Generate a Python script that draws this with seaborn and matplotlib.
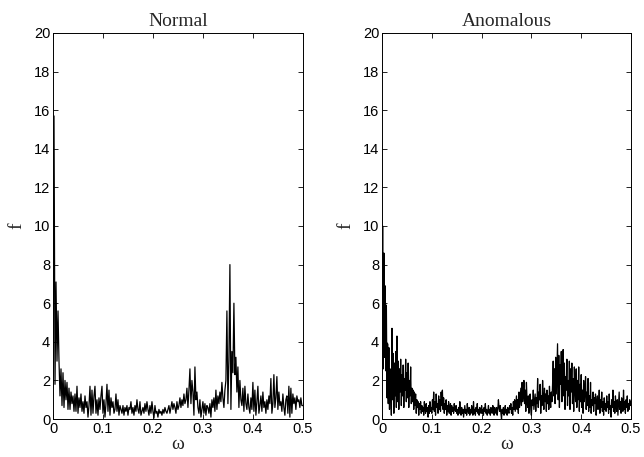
import numpy as np
import pandas as pd
import matplotlib
matplotlib.use("Agg")
import matplotlib.pyplot as plt
import seaborn as sns

# ---------------- data ----------------
normal_step = 0.002
normal_f = [
    1.6, 15.7, 1.8, 7.1, 3.0, 5.6, 3.0, 1.2, 2.6, 0.7,
    2.4, 0.6, 2.0, 1.0, 1.9, 0.5, 1.6, 0.5, 1.4, 0.8,
    1.2, 0.4, 1.3, 0.4, 1.7, 0.3, 1.1, 0.6, 1.3, 0.4,
    0.9, 0.3, 1.2, 0.6, 0.9, 0.1, 0.7, 1.7, 0.2, 1.5,
    0.3, 1.2, 1.7, 0.3, 1.0, 0.2, 1.1, 0.5, 1.2, 1.7,
    0.3, 1.0, 0.1, 0.8, 1.8, 0.4, 1.5, 0.2, 1.1, 0.6,
    0.9, 0.3, 0.5, 1.3, 0.4, 1.0, 0.2, 0.7, 0.5, 0.3,
    0.7, 0.2, 0.6, 0.4, 0.7, 0.2, 0.6, 0.5, 0.9, 0.3,
    0.6, 0.2, 0.7, 0.4, 1.0, 0.5, 0.3, 0.9, 0.2, 0.4,
    0.6, 0.3, 0.8, 0.4, 0.9, 0.5, 0.2, 0.7, 0.3, 0.9,
    0.4, 0.05, 0.7, 0.3, 0.4, 0.1, 0.5, 0.3, 0.4, 0.2,
    0.5, 0.3, 0.6, 0.4, 0.3, 0.5, 0.7, 0.3, 0.6, 0.9,
    0.5, 0.8, 0.6, 0.3, 0.9, 0.5, 0.7, 1.1, 0.6, 1.0,
    0.7, 1.3, 0.8, 1.0, 1.6, 0.6, 1.5, 2.6, 0.8, 2.0,
    1.4, 0.2, 2.7, 1.0, 1.4, 0.6, 0.3, 1.0, 0.1, 0.5,
    0.9, 0.3, 0.8, 0.2, 0.7, 0.6, 0.3, 0.8, 0.1, 1.0,
    0.6, 1.1, 0.4, 1.5, 0.5, 1.2, 0.8, 1.4, 0.9, 1.9,
    1.1, 0.6, 1.5, 2.0, 5.6, 0.8, 3.0, 8.0, 0.5, 3.5,
    2.4, 6.0, 2.3, 3.2, 1.4, 2.7, 0.6, 2.0, 1.0, 0.7,
    1.6, 0.4, 1.7, 0.8, 0.5, 1.3, 0.6, 0.3, 1.1, 0.5,
    1.9, 0.4, 1.5, 0.2, 0.9, 1.7, 0.3, 0.7, 1.2, 0.4,
    1.4, 0.6, 0.9, 0.3, 1.0, 0.5, 1.2, 0.8, 2.1, 0.3,
    0.8, 2.3, 0.6, 1.1, 2.2, 0.5, 1.4, 0.7, 0.9, 0.4,
    1.3, 0.6, 0.2, 1.0, 1.2, 0.3, 1.7, 0.1, 1.6, 0.3,
    1.3, 0.8, 1.1, 0.5, 1.2, 0.9, 1.0, 0.6, 1.1, 0.7,
    0.7,
]

anom_step = 0.00125
anom_f = [
    # 0.00 - 0.05
    2.6, 10.0, 2.6, 8.6, 3.2, 6.9, 2.5, 5.9, 1.1, 3.9,
    0.8, 3.7, 0.5, 2.6, 1.8, 0.2, 4.7, 1.0, 3.4, 0.3,
    2.9, 1.2, 3.5, 0.6, 4.3, 0.9, 3.0, 0.5, 2.6, 1.4,
    3.1, 0.7, 2.3, 1.2, 2.8, 0.6, 2.1, 1.5, 3.1, 0.9,
    # 0.05 - 0.10
    2.4, 1.1, 2.9, 0.6, 2.0, 1.2, 2.7, 0.8, 1.6, 0.9,
    1.5, 0.5, 1.4, 0.7, 1.3, 0.3, 1.0, 0.6, 0.9, 0.2,
    0.8, 0.5, 0.9, 0.3, 0.7, 0.4, 0.6, 0.2, 0.9, 0.5,
    0.3, 0.8, 0.4, 0.6, 0.1, 0.7, 0.3, 0.9, 0.4, 0.6,
    # 0.10 - 0.15
    0.3, 1.0, 0.5, 1.4, 0.4, 0.9, 0.2, 1.3, 0.6, 0.8,
    0.3, 1.2, 0.5, 1.0, 0.4, 1.4, 0.7, 1.5, 0.5, 1.1,
    0.3, 0.8, 0.5, 1.0, 0.2, 0.7, 0.4, 0.9, 0.3, 0.6,
    0.8, 0.2, 0.7, 0.4, 0.6, 0.3, 0.8, 0.5, 0.4, 0.7,
    # 0.15 - 0.20
    0.3, 0.5, 0.2, 0.6, 0.3, 0.9, 0.4, 0.2, 0.6, 0.3,
    0.5, 0.1, 0.4, 0.7, 0.3, 0.5, 0.2, 0.8, 0.4, 0.3,
    0.6, 0.2, 0.5, 0.3, 0.7, 0.4, 0.2, 0.9, 0.3, 0.5,
    0.2, 0.6, 0.4, 0.8, 0.3, 0.5, 0.2, 0.6, 0.4, 0.3,
    # 0.20 - 0.25
    0.7, 0.3, 0.5, 0.2, 0.6, 0.4, 0.8, 0.3, 0.5, 0.2,
    0.4, 0.7, 0.3, 0.5, 0.2, 0.6, 0.4, 0.3, 0.7, 0.5,
    0.2, 0.6, 0.4, 0.3, 0.6, 0.2, 0.5, 1.0, 0.6, 0.4,
    0.7, 0.3, 0.0, 0.5, 0.3, 0.6, 0.2, 0.4, 0.7, 0.3,
    # 0.25 - 0.30
    0.5, 0.2, 0.6, 0.4, 0.3, 0.7, 0.5, 0.8, 0.3, 0.6,
    0.2, 0.9, 0.5, 1.0, 0.4, 0.8, 1.2, 0.5, 1.0, 0.3,
    1.4, 0.6, 1.1, 1.6, 0.7, 1.9, 0.9, 1.3, 2.0, 0.8,
    1.5, 0.4, 1.9, 1.0, 0.6, 1.2, 0.3, 0.9, 1.3, 0.5,
    # 0.30 - 0.35
    0.2, 1.0, 0.7, 1.5, 0.5, 0.9, 1.3, 0.4, 1.1, 0.8,
    2.1, 0.6, 1.4, 1.0, 1.8, 0.3, 1.2, 0.7, 2.0, 1.1,
    0.5, 1.6, 0.9, 1.3, 0.4, 1.5, 0.8, 1.2, 0.5, 1.7,
    1.0, 0.6, 1.4, 0.9, 1.8, 3.0, 1.2, 2.6, 0.8, 3.2,
    # 0.35 - 0.40
    1.3, 2.5, 3.9, 1.0, 3.3, 0.6, 2.8, 1.8, 3.5, 0.9,
    2.4, 3.6, 1.2, 2.9, 0.5, 2.2, 1.5, 3.1, 0.7, 2.0,
    1.2, 3.0, 0.5, 2.6, 1.4, 2.9, 0.8, 2.1, 0.4, 2.7,
    1.5, 0.9, 2.6, 0.6, 2.0, 1.0, 2.7, 0.4, 1.8, 0.9,
    # 0.40 - 0.45
    2.3, 0.6, 1.5, 0.3, 2.0, 0.9, 1.3, 2.2, 0.5, 1.4,
    0.7, 2.1, 0.4, 1.2, 0.6, 1.9, 0.3, 1.0, 0.7, 1.4,
    0.4, 1.1, 0.8, 1.3, 0.2, 0.9, 1.2, 0.5, 0.8, 1.5,
    0.3, 1.0, 0.6, 1.4, 0.4, 0.9, 0.2, 1.1, 0.5, 0.8,
    # 0.45 - 0.50
    0.4, 1.2, 0.6, 0.9, 0.3, 1.3, 0.5, 0.7, 0.1, 1.0,
    0.6, 1.5, 0.4, 0.9, 0.3, 1.2, 0.7, 0.4, 1.0, 0.2,
    0.8, 1.4, 0.5, 0.9, 0.3, 1.1, 0.6, 0.4, 1.5, 0.5,
    0.9, 0.3, 1.0, 0.6, 1.2, 0.4, 0.8, 0.5, 1.0, 0.7,
    0.9,
]

titles = ["Normal", "Anomalous"]
xticks = [0, 0.1, 0.2, 0.3, 0.4, 0.5]
xticklabels = ["0", "0.1", "0.2", "0.3", "0.4", "0.5"]
yticks = [0, 2, 4, 6, 8, 10, 12, 14, 16, 18, 20]
yticklabels = [str(v) for v in yticks]

df_normal = pd.DataFrame({"omega": np.arange(len(normal_f)) * normal_step,
                          "f": normal_f})
df_anom = pd.DataFrame({"omega": np.arange(len(anom_f)) * anom_step,
                        "f": anom_f})

# ---------------- figure ----------------
sns.set_style("ticks")
plt.rcParams["font.family"] = ["Liberation Sans", "DejaVu Sans"]

fig = plt.figure(figsize=(6.44, 4.57), dpi=100)
ax1 = fig.add_axes([0.0823, 0.083, 0.388, 0.845])
ax2 = fig.add_axes([0.5932, 0.083, 0.3866, 0.845])

for ax, df, title in [(ax1, df_normal, titles[0]), (ax2, df_anom, titles[1])]:
    sns.lineplot(data=df, x="omega", y="f", ax=ax, color="black",
                 linewidth=0.9, estimator=None, sort=False)
    ax.set_xlim(0, 0.5)
    ax.set_ylim(0, 20)
    ax.set_xticks(xticks)
    ax.set_xticklabels(xticklabels)
    ax.set_yticks(yticks)
    ax.set_yticklabels(yticklabels)
    ax.tick_params(direction="in", top=True, right=True, length=3.5,
                   width=0.6, labelsize=10.5, pad=2, colors="black")
    for s in ax.spines.values():
        s.set_visible(True)
        s.set_linewidth(0.7)
        s.set_color("black")
    ax.set_title(title, family=["Liberation Serif"], fontsize=14, pad=5)
    ax.set_xlabel("ω", family=["Liberation Serif", "DejaVu Serif"],
                  fontsize=14, labelpad=0)
    ax.set_ylabel("f", family=["Liberation Serif"], fontsize=14, labelpad=6)

fig.savefig("out.png", dpi=100, facecolor="white")
